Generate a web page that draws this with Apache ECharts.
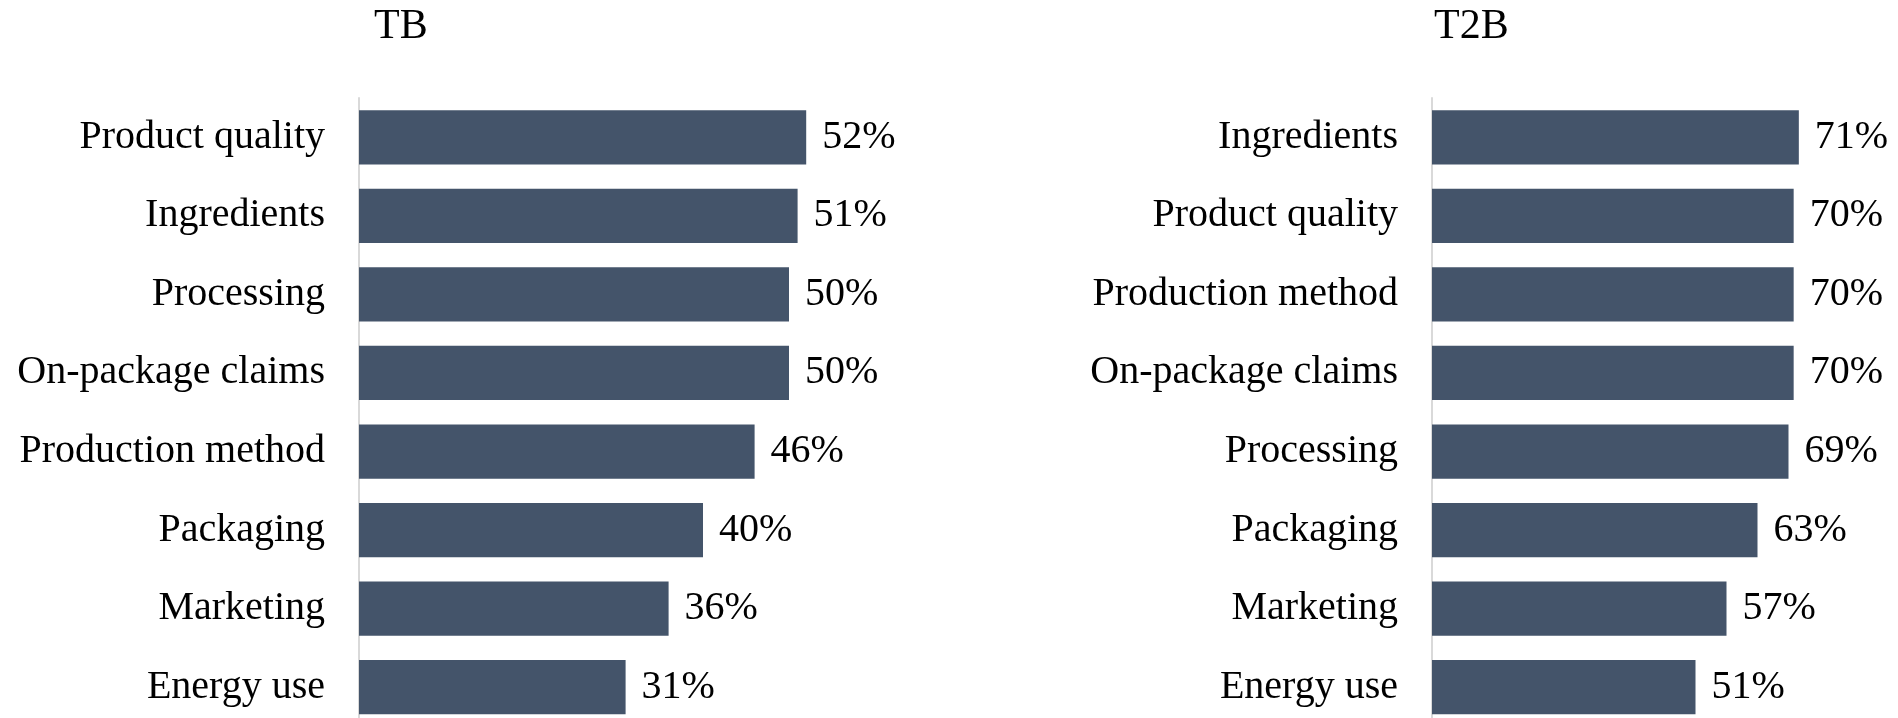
<!DOCTYPE html>
<html>
<head>
<meta charset="utf-8">
<script src="https://cdn.jsdelivr.net/npm/echarts@6/dist/echarts.min.js"></script>
<style>
html,body{margin:0;padding:0;background:#fff;}
#main{width:1898px;height:718px;}
</style>
</head>
<body>
<div id="main"></div>
<script>
const tbTitle = 'TB';
const tbCategories = ['Product quality','Ingredients','Processing','On-package claims','Production method','Packaging','Marketing','Energy use'];
const tbValues = [52,51,50,50,46,40,36,31];
const t2bTitle = 'T2B';
const t2bCategories = ['Ingredients','Product quality','Production method','On-package claims','Processing','Packaging','Marketing','Energy use'];
const t2bValues = [71,70,70,70,69,63,57,51];

const FONT = '"Liberation Serif", "Times New Roman", serif';
const BAR = '#44546A';

const chart = echarts.init(document.getElementById('main'));

function catAxis(idx, cats){
  return {
    type:'category', gridIndex:idx, data:cats, inverse:true,
    axisTick:{show:false},
    axisLine:{show:true, lineStyle:{color:'#d9d9d9', width:2}},
    axisLabel:{fontFamily:FONT, fontSize:40, color:'#000', margin:34}
  };
}
function valAxis(idx, max){
  return {type:'value', gridIndex:idx, min:0, max:max, show:false, splitLine:{show:false}};
}
function barSeries(idx, vals){
  return {
    type:'bar', xAxisIndex:idx, yAxisIndex:idx, data:vals,
    barCategoryGap:'31%',
    itemStyle:{color:BAR},
    label:{show:true, position:'right', distance:16, formatter:'{c}%', fontFamily:FONT, fontSize:40, color:'#000'},
    silent:true
  };
}

chart.setOption({
  animation:false,
  backgroundColor:'#fff',
  title:[
    {text:tbTitle, left:369, top:1, textStyle:{fontFamily:FONT, fontSize:42, fontWeight:'normal', color:'#000'}},
    {text:t2bTitle, left:1429, top:1, textStyle:{fontFamily:FONT, fontSize:42, fontWeight:'normal', color:'#000'}}
  ],
  grid:[
    {left:359, top:98, width:516, height:628.5, outerBoundsMode:'none'},
    {left:1432, top:98, width:465, height:628.5, outerBoundsMode:'none'}
  ],
  xAxis:[valAxis(0,60), valAxis(1,90)],
  yAxis:[catAxis(0,tbCategories), catAxis(1,t2bCategories)],
  series:[barSeries(0,tbValues), barSeries(1,t2bValues)]
});
</script>
</body>
</html>
